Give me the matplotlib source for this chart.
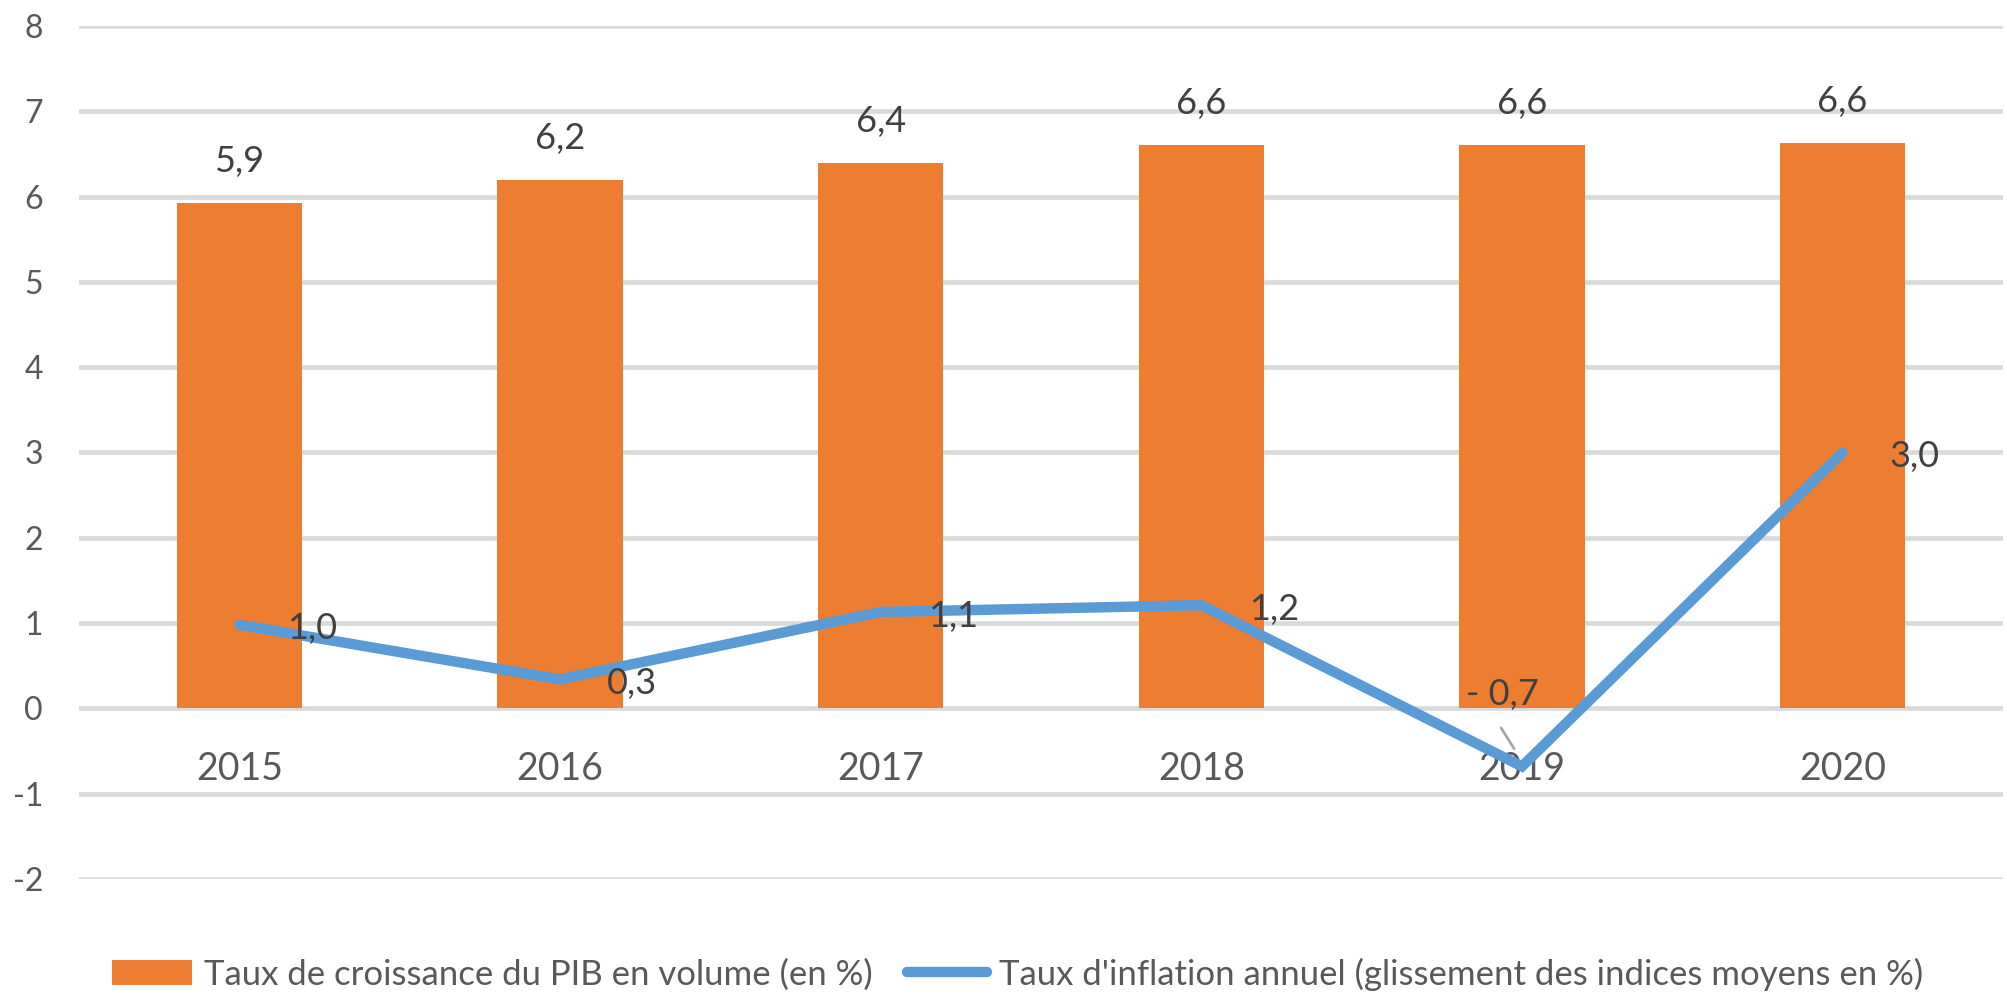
import numpy as np
import matplotlib.pyplot as plt

# Data
years = ["2015", "2016", "2017", "2018", "2019", "2020"]
pib = [5.93, 6.2, 6.39, 6.6, 6.6, 6.63]
inflation = [0.98, 0.34, 1.13, 1.21, -0.68, 3.0]
pib_labels = ["5,9", "6,2", "6,4", "6,6", "6,6", "6,6"]
infl_labels = ["1,0", "0,3", "1,1", "1,2", "- 0,7", "3,0"]
legend_labels = ["Taux de croissance du PIB en volume (en %)",
                 "Taux d'inflation annuel (glissement des indices moyens en %)"]

orange = "#ED7D31"
blue = "#5B9BD5"
grid_col = "#D9D9D9"
txt_col = "#595959"
lab_col = "#404040"

plt.rcParams['font.family'] = ['Lato', 'DejaVu Sans']

W, H = 2007, 997
fig = plt.figure(figsize=(W / 100, H / 100), dpi=100)
ax = fig.add_axes([79 / W, 1 - 879 / H, (2003 - 79) / W, (879 - 26) / H])

x = np.arange(len(years))
bars = ax.bar(x, pib, width=0.39, color=orange, zorder=2, label=legend_labels[0])
line, = ax.plot(x, inflation, color=blue, lw=7.5, solid_capstyle="round",
                solid_joinstyle="miter", zorder=3, label=legend_labels[1])

ax.set_xlim(-0.5, len(years) - 0.5)
ax.set_ylim(-2, 8)
ax.set_yticks(range(-2, 9))
ax.set_yticklabels([str(v) for v in range(-2, 9)])
ax.yaxis.grid(True, color=grid_col, lw=3.3, zorder=0)
ax.set_axisbelow(True)
for s in ax.spines.values():
    s.set_visible(False)
ax.spines['bottom'].set_position(('data', 0))
ax.set_xticks(x)
ax.set_xticklabels(years)
ax.tick_params(axis="y", length=0, pad=26, labelsize=23, labelcolor=txt_col)
ax.tick_params(axis="x", length=0, pad=31, labelsize=27, labelcolor=txt_col)

# bar value labels
for xi, v, lab in zip(x, pib, pib_labels):
    ax.annotate(lab, (xi, v), xytext=(0, 18), textcoords="offset points",
                ha="center", va="bottom", fontsize=26, color=lab_col, zorder=4)

# line value labels (to the right of points)
for i, (xi, v, lab) in enumerate(zip(x, inflation, infl_labels)):
    if i == 4:
        continue
    ax.annotate(lab, (xi, v), xytext=(34, -3), textcoords="offset points",
                ha="left", va="center", fontsize=26, color=lab_col, zorder=4)

# 2019 label moved above with a leader line
ax.annotate(infl_labels[4], (x[4], inflation[4]), xytext=(-40, 52),
            textcoords="offset points", ha="left", va="center", fontsize=26,
            color=lab_col, zorder=4)
ax.annotate("", xy=(x[4] - 0.02, inflation[4] + 0.18), xytext=(x[4] - 0.07, inflation[4] + 0.48),
            arrowprops=dict(arrowstyle="-", color="#A6A6A6", lw=2), zorder=4)

fig.legend(handles=[bars, line], labels=legend_labels, loc="center",
           bbox_to_anchor=(0.507, 1 - 974 / H), ncol=2, frameon=False,
           fontsize=25, labelcolor=txt_col, handlelength=2.3, handleheight=0.72,
           handletextpad=0.35, columnspacing=1.0)

fig.savefig("out.png", dpi=100)
